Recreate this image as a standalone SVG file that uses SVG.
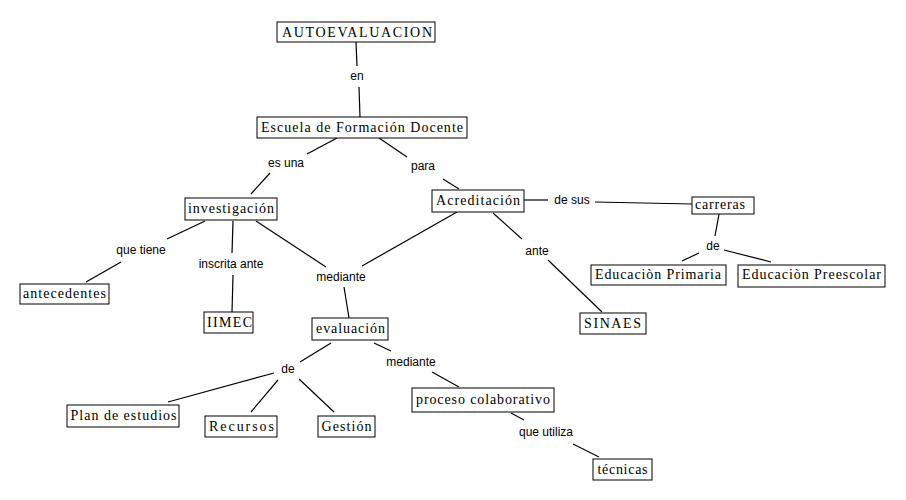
<svg xmlns="http://www.w3.org/2000/svg" width="906" height="500" viewBox="0 0 906 500">
<style>
.box{fill:#fff;stroke:#000;stroke-width:1}
.nt{font-family:"Liberation Serif","Times New Roman",serif;font-size:14px;fill:#000;text-anchor:middle}
.lb{font-family:"Liberation Sans",Arial,sans-serif;font-size:12px;fill:#000;text-anchor:middle}
.c line{stroke:#000;stroke-width:1.2}
</style>
<rect width="906" height="500" fill="#fff"/>
<g class="c" id="connectors">
<line x1="356" y1="42" x2="357" y2="66"/>
<line x1="359" y1="87" x2="360" y2="117"/>
<line x1="337" y1="138" x2="307" y2="154"/>
<line x1="270" y1="173" x2="251" y2="194"/>
<line x1="379" y1="138" x2="407" y2="157"/>
<line x1="443" y1="179" x2="459" y2="189"/>
<line x1="205" y1="221" x2="167" y2="239"/>
<line x1="121" y1="262" x2="86" y2="282"/>
<line x1="233" y1="221" x2="232" y2="253"/>
<line x1="233" y1="275" x2="232" y2="312"/>
<line x1="256" y1="221" x2="326" y2="267"/>
<line x1="457" y1="212" x2="362" y2="266"/>
<line x1="344" y1="287" x2="349" y2="318"/>
<line x1="524" y1="200" x2="548" y2="200"/>
<line x1="595" y1="202" x2="692" y2="204"/>
<line x1="493" y1="213" x2="522" y2="239"/>
<line x1="548" y1="260" x2="602" y2="312"/>
<line x1="719" y1="214" x2="715" y2="236"/>
<line x1="699" y1="253" x2="682" y2="261"/>
<line x1="724" y1="250" x2="771" y2="262"/>
<line x1="331" y1="343" x2="300" y2="362"/>
<line x1="274" y1="373" x2="168" y2="402"/>
<line x1="278" y1="380" x2="251" y2="412"/>
<line x1="299" y1="379" x2="334" y2="412"/>
<line x1="374" y1="343" x2="391" y2="351"/>
<line x1="432" y1="372" x2="459" y2="387"/>
<line x1="511" y1="413" x2="524" y2="420"/>
<line x1="573" y1="444" x2="599" y2="457"/>
</g>
<g id="labels">
<text class="lb" x="357" y="80">en</text>
<text class="lb" x="286" y="167">es una</text>
<text class="lb" x="423" y="170">para</text>
<text class="lb" x="141" y="254">que tiene</text>
<text class="lb" x="231" y="268">inscrita ante</text>
<text class="lb" x="341" y="281">mediante</text>
<text class="lb" x="572" y="204">de sus</text>
<text class="lb" x="713" y="250">de</text>
<text class="lb" x="537" y="255">ante</text>
<text class="lb" x="288" y="373">de</text>
<text class="lb" x="411" y="366">mediante</text>
<text class="lb" x="546" y="436">que utiliza</text>
</g>
<g id="n-autoevaluacion"><rect class="box" x="277" y="22" width="158" height="20"/><text class="nt" x="357" y="37" textLength="150" lengthAdjust="spacing">AUTOEVALUACION</text></g>
<g id="n-escuela"><rect class="box" x="257" y="117" width="210" height="21"/><text class="nt" x="362" y="132" textLength="202" lengthAdjust="spacing">Escuela de Formación Docente</text></g>
<g id="n-investigacion"><rect class="box" x="185" y="198" width="92" height="22"/><text class="nt" x="231" y="213" textLength="86" lengthAdjust="spacing">investigación</text></g>
<g id="n-acreditacion"><rect class="box" x="432" y="190" width="92" height="22"/><text class="nt" x="478" y="205" textLength="84" lengthAdjust="spacing">Acreditación</text></g>
<g id="n-carreras"><rect class="box" x="692" y="197" width="62" height="17"/><text class="nt" x="720" y="209" textLength="50" lengthAdjust="spacing">carreras</text></g>
<g id="n-primaria"><rect class="box" x="591" y="265" width="135" height="20"/><text class="nt" x="658" y="279" textLength="126" lengthAdjust="spacing">Educaciòn Primaria</text></g>
<g id="n-preescolar"><rect class="box" x="738" y="265" width="147" height="22"/><text class="nt" x="811.5" y="279" textLength="139" lengthAdjust="spacing">Educaciòn Preescolar</text></g>
<g id="n-antecedentes"><rect class="box" x="20" y="284" width="89" height="20"/><text class="nt" x="64.5" y="298" textLength="83" lengthAdjust="spacing">antecedentes</text></g>
<g id="n-iimec"><rect class="box" x="204" y="312" width="49" height="21"/><text class="nt" x="229.5" y="327" textLength="45" lengthAdjust="spacing">IIMEC</text></g>
<g id="n-evaluacion"><rect class="box" x="312" y="318" width="76" height="22"/><text class="nt" x="350.5" y="333" textLength="69" lengthAdjust="spacing">evaluación</text></g>
<g id="n-sinaes"><rect class="box" x="580" y="313" width="66" height="21"/><text class="nt" x="612.5" y="328" textLength="57" lengthAdjust="spacing">SINAES</text></g>
<g id="n-proceso"><rect class="box" x="412" y="388" width="142" height="24"/><text class="nt" x="483" y="404" textLength="134" lengthAdjust="spacing">proceso colaborativo</text></g>
<g id="n-tecnicas"><rect class="box" x="593" y="459" width="59" height="21"/><text class="nt" x="622.5" y="474" textLength="50" lengthAdjust="spacing">técnicas</text></g>
<g id="n-plan"><rect class="box" x="67" y="405" width="112" height="22"/><text class="nt" x="123.5" y="420" textLength="106" lengthAdjust="spacing">Plan de estudios</text></g>
<g id="n-recursos"><rect class="box" x="205" y="416" width="72" height="21"/><text class="nt" x="241.5" y="431" textLength="65" lengthAdjust="spacing">Recursos</text></g>
<g id="n-gestion"><rect class="box" x="318" y="416" width="57" height="21"/><text class="nt" x="346.5" y="431" textLength="50" lengthAdjust="spacing">Gestión</text></g>
</svg>
